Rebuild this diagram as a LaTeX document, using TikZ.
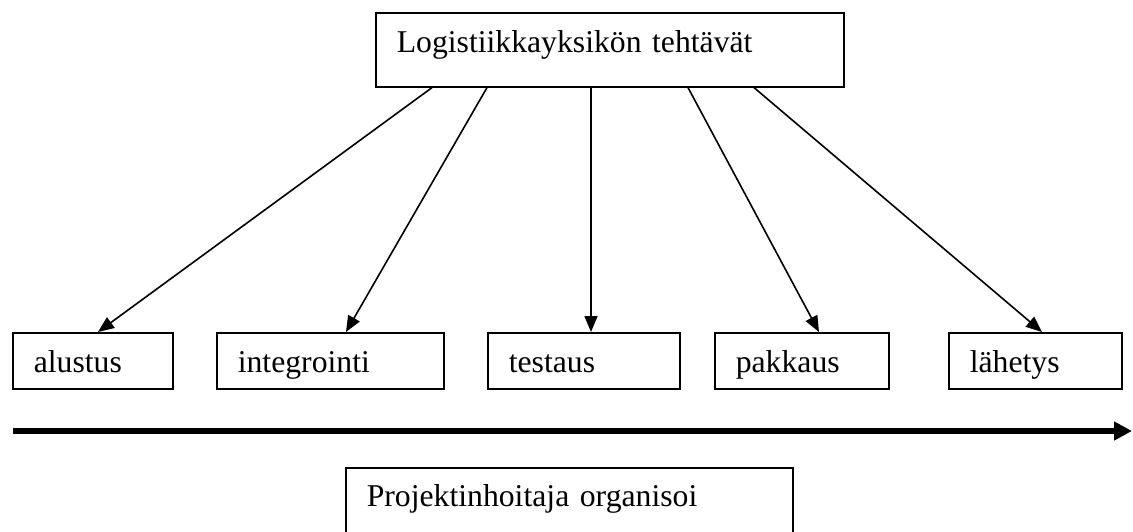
\documentclass[tikz,border=0pt]{standalone}
\usepackage{fontspec}
\setmainfont{Liberation Serif}
\usetikzlibrary{arrows.meta,calc}

\begin{document}
\begin{tikzpicture}[
  x=1pt, y=-1pt,
  every node/.style={font=\fontsize{31.7}{38}\selectfont},
  taskbox/.style={draw, line width=1.6pt, anchor=north west,
    inner xsep=21pt, inner ysep=0pt, align=left,
    text height=40pt, text depth=16pt},
  link/.style={line width=1.6pt, -{Triangle[length=16pt,width=13pt]}},
  timeline/.style={line width=6pt, -{Triangle[length=18pt,width=18pt]}}
]
\useasboundingbox (0,0) rectangle (1133,531);
\clip (0,0) rectangle (1133,531);

% head box
\node[taskbox, text width=426pt, text depth=34pt] (head) at (375,12)
  {Logistiikkayksikön tehtävät};

% task boxes
\node[taskbox, text width=118pt] (alustus)     at (12,332)  {alustus};
\node[taskbox, text width=185pt] (integrointi) at (216,332) {integrointi};
\node[taskbox, text width=150pt] (testaus)     at (487,332) {testaus};
\node[taskbox, text width=132pt] (pakkaus)     at (714,332) {pakkaus};
\node[taskbox, text width=131pt] (lahetys)     at (948,332) {lähetys};

% project manager box (runs past the lower edge)
\node[taskbox, text width=405pt, text height=39pt, text depth=40pt] (pm) at (345,467)
  {Projektinhoitaja organisoi};

% links from the head box to the tasks
\draw[link] ($(head.south west)+(57,0)$)  -- ($(alustus.north west)+(86,0)$);
\draw[link] ($(head.south west)+(112,0)$) -- ($(integrointi.north west)+(130,0)$);
\draw[link] ($(head.south west)+(216,0)$) -- ($(testaus.north west)+(104,0)$);
\draw[link] ($(head.south west)+(313,0)$) -- ($(pakkaus.north west)+(105,0)$);
\draw[link] ($(head.south west)+(379,0)$) -- ($(lahetys.north west)+(94,0)$);

% time axis
\coordinate (t0) at (13,431);
\coordinate (t1) at (1132,431);
\draw[timeline] (t0) -- (t1);
\end{tikzpicture}
\end{document}
